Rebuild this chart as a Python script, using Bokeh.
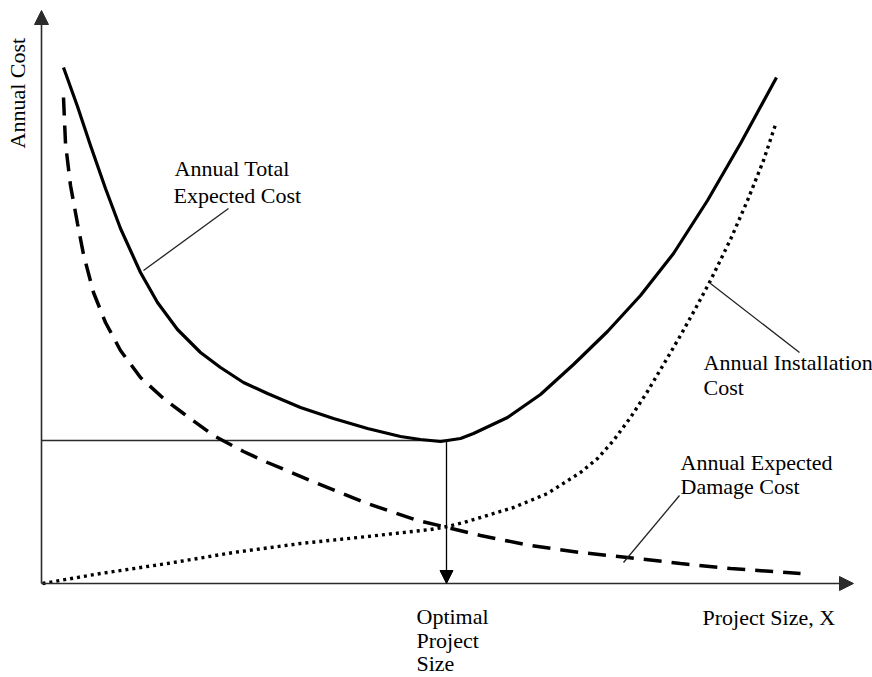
import math
from bokeh.plotting import figure
from bokeh.models import Range1d, Arrow, NormalHead
from bokeh.core.properties import value
from bokeh.embed import file_html
from bokeh.resources import INLINE

# ---- data (arbitrary units) ----
total_x = [22, 36, 49, 64, 79, 99, 116, 136, 159, 179, 202, 226, 259, 292, 326,
           359, 379, 399, 419, 432, 466, 499, 532, 566, 599, 632, 666, 699, 717, 735]
total_cost = [516, 477, 438, 395, 355, 311, 281, 254, 231, 216, 201, 190, 176, 165, 155,
              147, 144, 142, 145, 150, 166, 189, 219, 252, 288, 330, 383, 440, 473, 506]

damage_x = [22, 24, 29, 36, 42, 52, 64, 79, 99, 122, 142, 172, 202, 226, 276, 326,
            376, 406, 439, 489, 539, 586, 639, 689, 759]
damage_cost = [486, 440, 398, 360, 329, 291, 261, 233, 206, 185, 170, 148, 132, 121, 100, 80,
               63, 56, 48, 38, 31, 26, 20, 15, 10]

install_x = [1, 59, 126, 192, 259, 326, 389, 406, 422, 439, 472, 506, 539, 556, 572,
             589, 606, 622, 639, 654, 669, 689, 706, 722, 734]
install_cost = [0, 10, 20, 31, 40, 47, 54, 57, 61, 66, 76, 90, 111, 125, 143,
                166, 192, 219, 248, 275, 303, 344, 383, 423, 459]

optimal_size = 405
minimum_total = 143

# ---- figure ----
p = figure(width=872, height=677, x_range=Range1d(-41, 831), y_range=Range1d(-94, 583),
           output_backend="svg", toolbar_location=None, min_border=0,
           x_axis_type=None, y_axis_type=None)
p.grid.visible = False
p.outline_line_color = None
p.background_fill_color = "white"
p.border_fill_color = "white"

axis_col = "#2b2b2b"
# axes with arrow heads
p.add_layout(Arrow(end=NormalHead(size=14, fill_color=axis_col, line_color=axis_col),
                   x_start=0, y_start=0, x_end=812, y_end=0,
                   line_width=1.6, line_color=axis_col))
p.add_layout(Arrow(end=NormalHead(size=14, fill_color=axis_col, line_color=axis_col),
                   x_start=0, y_start=0, x_end=0, y_end=573,
                   line_width=1.6, line_color=axis_col))

# optimal point guides
p.line([0, optimal_size], [minimum_total, minimum_total], line_color=axis_col, line_width=1.3)
p.add_layout(Arrow(end=NormalHead(size=13, fill_color="black", line_color="black"),
                   x_start=optimal_size, y_start=minimum_total, x_end=optimal_size, y_end=0,
                   line_width=1.3, line_color="black"))

# curves
p.line(install_x, install_cost, line_color="black", line_width=3.4, line_dash="3 4")
p.line(damage_x, damage_cost, line_color="black", line_width=3.5, line_dash="18 10")
p.line(total_x, total_cost, line_color="black", line_width=3.2, line_join="round")

# leader lines
p.segment(x0=[102, 669, 582], y0=[313, 300, 21], x1=[187, 758, 638], y1=[375, 231, 88],
          line_color="#222222", line_width=1.3)

font = value("Liberation Serif")
fs = "22px"
labels = ["Annual Total", "Expected Cost",
          "Annual Installation", "Cost",
          "Annual Expected", "Damage Cost",
          "Optimal", "Project", "Size",
          "Project Size, X"]
lx = [133, 132, 662, 662, 639, 639, 375, 375, 375, 661]
ly = [415, 388, 221, 196, 121, 97, -33, -57, -80, -34]
p.text(x=lx, y=ly, text=labels, text_font=font, text_font_size=fs,
       text_color="black", text_align="left", text_baseline="alphabetic")

p.text(x=[-24], y=[435], text=["Annual Cost"], angle=math.pi / 2,
       text_font=font, text_font_size=fs, text_color="black",
       text_align="left", text_baseline="alphabetic")

open("out.html", "w").write(file_html(p, INLINE))
